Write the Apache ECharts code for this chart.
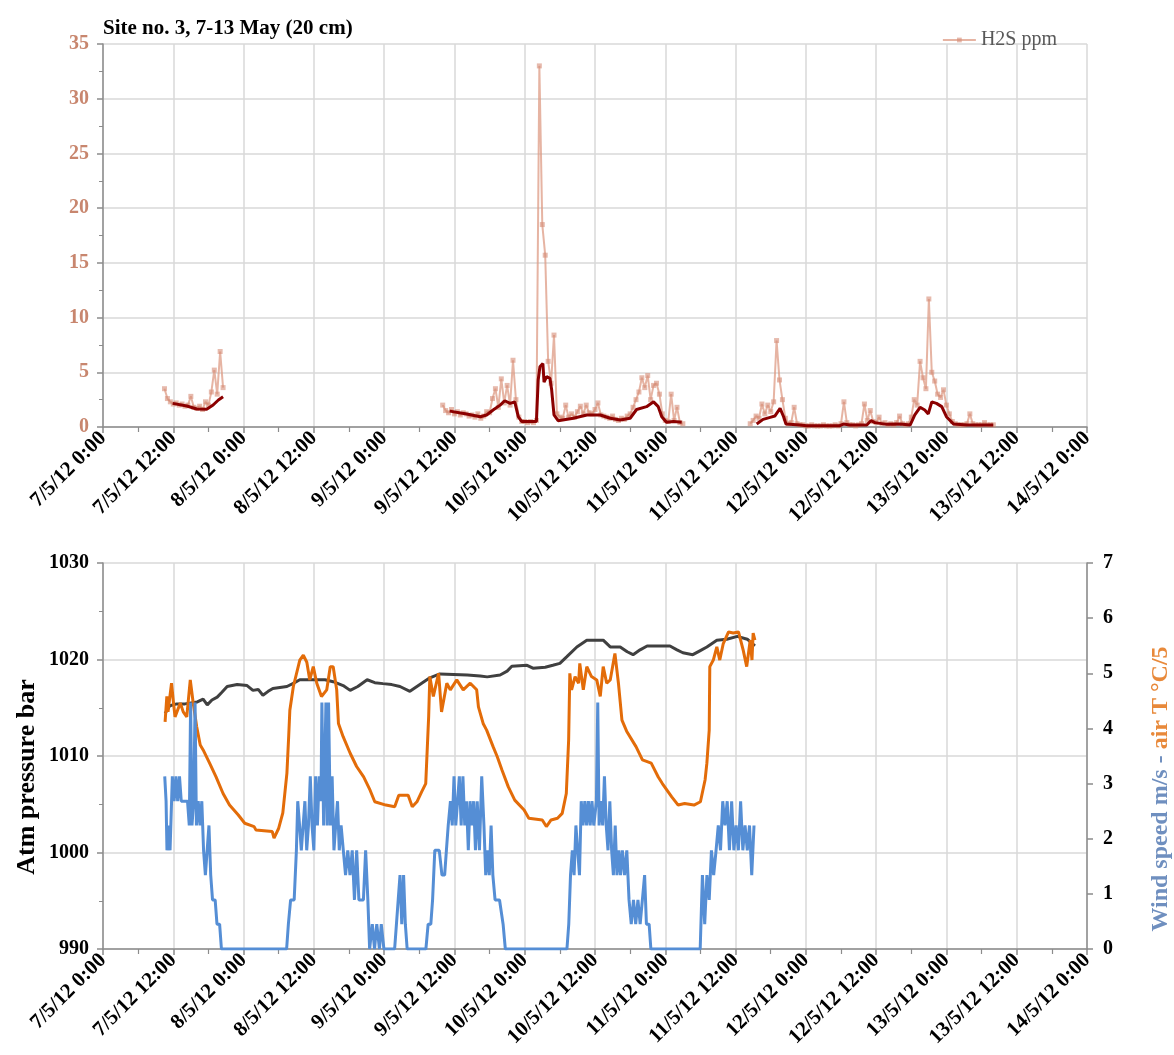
<!DOCTYPE html>
<html>
<head>
<meta charset="utf-8">
<script src="https://cdn.jsdelivr.net/npm/echarts@6/dist/echarts.min.js"></script>
<style>html,body{margin:0;padding:0;background:#fff}#c{width:1174px;height:1055px}</style>
</head>
<body>
<div id="c"></div>
<script>
// ---- tick labels (x axis every 12 h from 7 May 0:00) ----
const xTickLabels = ['7/5/12 0:00','7/5/12 12:00','8/5/12 0:00','8/5/12 12:00','9/5/12 0:00','9/5/12 12:00',
  '10/5/12 0:00','10/5/12 12:00','11/5/12 0:00','11/5/12 12:00','12/5/12 0:00','12/5/12 12:00',
  '13/5/12 0:00','13/5/12 12:00','14/5/12 0:00'];

// ---- H2S raw readings (ppm), half-hour samples; start hour of each block ----
const h2sRawStart = [10.5, 58.0, 110.5];
const h2sRawStep = 0.5;
const h2sRaw1 = [3.5,2.6,2.3,2.1,2.2,2.0,2.1,1.9,2.0,2.8,1.8,1.7,1.9,1.6,2.3,2.0,3.2,5.2,3.0,6.9,3.6];
const h2sRaw2 = [2.0,1.5,1.3,1.6,1.2,1.4,1.1,1.3,1.2,1.0,1.1,0.9,1.2,0.8,1.0,1.4,1.3,2.6,3.5,1.8,
  4.4,2.2,3.8,2.0,6.1,2.5,0.9,0.5,0.5,0.4,0.5,0.4,0.6,33.0,18.5,15.7,6.0,4.0,8.4,1.2,
  0.9,0.8,2.0,0.9,1.2,0.9,1.4,1.9,1.2,2.0,1.3,1.2,1.6,2.2,1.1,1.0,0.9,0.8,1.0,0.7,
  0.6,0.8,0.7,1.0,1.2,1.8,2.5,3.2,4.5,3.6,4.7,2.5,3.8,4.0,3.0,1.2,0.6,0.5,3.0,0.6,
  1.8,0.4,0.3];
const h2sRaw3 = [0.3,0.6,1.0,0.8,2.1,1.2,2.0,1.4,2.3,7.9,4.3,2.5,0.8,0.3,0.4,1.8,0.3,0.2,0.2,0.1,
  0.1,0.2,0.1,0.1,0.1,0.2,0.1,0.1,0.1,0.2,0.1,0.3,2.3,0.4,0.2,0.2,0.1,0.2,0.3,2.1,
  0.6,1.5,0.5,0.4,0.9,0.3,0.4,0.2,0.3,0.2,0.4,1.0,0.3,0.2,0.3,0.9,2.5,2.0,6.0,4.5,
  3.5,11.7,5.0,4.2,3.0,2.7,3.4,2.0,1.2,0.5,0.3,0.2,0.2,0.2,0.3,1.2,0.3,0.2,0.2,0.2,
  0.4,0.2,0.2,0.2];

// ---- H2S running mean [hour, ppm] ----
const h2sAvg1 = [[11.9,2.16],[14.3,1.92],[16.0,1.65],[17.7,1.62],[18.8,2.01],[19.7,2.47],[20.5,2.77]];
const h2sAvg2 = [[59.2,1.45],[62.1,1.19],[64.4,0.94],[65.5,1.1],[66.6,1.55],[67.8,2.0],[68.6,2.4],[69.5,2.16],
  [70.3,2.3],[70.9,0.94],[71.5,0.5],[74.0,0.5],[74.3,4.3],[74.6,5.5],[75.1,5.8],[75.3,4.1],[75.75,4.6],
  [76.3,4.45],[76.6,3.4],[77.0,1.1],[77.7,0.58],[80.3,0.8],[82.6,1.1],[84.9,1.1],[86.6,0.8],[88.3,0.64],
  [90.0,0.8],[91.1,1.6],[92.8,1.86],[94.0,2.3],[94.8,1.86],[95.4,0.94],[96.2,0.43],[97.4,0.5],[98.8,0.43]];
const h2sAvg3 = [[111.6,0.27],[112.7,0.7],[113.9,0.88],[114.7,1.0],[115.6,1.7],[116.2,0.94],[116.6,0.27],
  [119.0,0.18],[120.1,0.12],[125.8,0.12],[126.4,0.27],[127.5,0.18],[130.4,0.18],[131.1,0.58],[131.8,0.4],
  [133.8,0.24],[136.1,0.27],[137.8,0.18],[138.6,1.1],[139.5,1.8],[140.3,1.55],[140.9,1.2],[141.5,2.3],
  [142.3,2.16],[143.2,1.86],[144.0,0.94],[145.2,0.27],[147.5,0.18],[152.0,0.18]];

// ---- Atmospheric pressure [hour, mbar] ----
const pressure = [[10.6,1014.4],[11.4,1015.2],[12.6,1015.4],[14.0,1015.4],[16.1,1015.6],[17.1,1015.9],
  [17.8,1015.3],[18.6,1015.8],[19.5,1016.1],[20.3,1016.6],[21.2,1017.2],[22.9,1017.4],[24.6,1017.3],
  [25.6,1016.8],[26.5,1016.9],[27.3,1016.3],[28.2,1016.7],[29.0,1017.0],[31.4,1017.2],[32.4,1017.5],
  [33.6,1017.9],[35.9,1017.9],[37.9,1017.9],[39.3,1017.7],[41.0,1017.3],[42.2,1016.8],[43.5,1017.2],
  [45.1,1017.9],[46.4,1017.6],[47.8,1017.5],[49.3,1017.4],[50.7,1017.2],[52.4,1016.7],[54.1,1017.4],
  [55.8,1018.1],[57.5,1018.5],[62.2,1018.4],[64.4,1018.3],[65.6,1018.2],[67.8,1018.4],[69.0,1018.8],
  [69.8,1019.3],[72.4,1019.4],[73.4,1019.1],[75.5,1019.2],[76.8,1019.4],[78.0,1019.6],[79.2,1020.3],
  [80.9,1021.3],[82.6,1022.0],[85.4,1022.0],[86.6,1021.3],[88.3,1021.3],[89.5,1020.8],[90.5,1020.5],
  [91.7,1021.0],[92.9,1021.4],[96.8,1021.4],[98.0,1021.0],[99.0,1020.7],[100.7,1020.5],[101.9,1020.9],
  [103.1,1021.3],[104.8,1022.0],[106.5,1022.1],[108.3,1022.4],[110.0,1022.1],[111.3,1021.4]];

// ---- Air temperature / 5 [hour, °C/5] ----
const airT5 = [[10.6,4.12],[10.9,4.58],[11.1,4.3],[11.7,4.82],[12.0,4.5],[12.3,4.21],[13.2,4.46],[13.7,4.3],
  [14.3,4.21],[14.9,4.88],[15.4,4.46],[16.0,4.03],[16.6,3.7],[17.1,3.61],[18.2,3.37],[19.3,3.12],[20.5,2.82],
  [21.6,2.61],[23.1,2.43],[24.2,2.28],[25.8,2.22],[26.1,2.16],[28.9,2.13],[29.2,2.01],[30.0,2.19],[30.7,2.47],
  [31.4,3.19],[31.7,3.85],[31.9,4.33],[32.5,4.76],[33.6,5.24],[34.2,5.33],[34.8,5.2],[35.3,4.88],[35.9,5.12],
  [36.5,4.82],[37.3,4.58],[38.2,4.7],[38.8,5.12],[39.3,5.12],[39.9,4.7],[40.2,4.09],[41.0,3.85],[42.2,3.55],
  [43.3,3.31],[44.5,3.12],[45.6,2.88],[46.4,2.67],[48.3,2.61],[49.8,2.58],[50.5,2.79],[52.1,2.79],[52.8,2.58],
  [53.6,2.67],[54.4,2.85],[55.1,3.0],[55.5,3.97],[55.6,4.21],[55.8,4.94],[56.4,4.58],[57.3,5.0],[57.8,4.3],
  [58.7,4.82],[59.3,4.7],[60.4,4.88],[61.5,4.7],[62.7,4.82],[63.8,4.7],[64.1,4.39],[64.9,4.09],[65.5,3.97],
  [66.6,3.67],[67.3,3.49],[68.1,3.25],[69.2,2.94],[70.3,2.7],[71.9,2.52],[72.7,2.37],[75.0,2.34],[75.7,2.22],
  [76.5,2.34],[77.6,2.37],[78.4,2.46],[79.1,2.82],[79.5,3.79],[79.7,5.0],[80.0,4.7],[80.6,4.94],[81.2,4.82],
  [81.4,5.18],[82.0,4.7],[82.6,5.12],[83.4,4.94],[84.3,4.88],[84.9,4.58],[85.4,5.12],[86.0,4.82],[86.6,4.88],
  [87.4,5.36],[88.0,4.82],[88.6,4.15],[89.4,3.95],[91.0,3.67],[92.1,3.43],[93.6,3.37],[94.8,3.12],[95.5,3.0],
  [97.1,2.76],[98.2,2.61],[99.3,2.64],[100.9,2.61],[102.0,2.67],[102.8,3.07],[103.1,3.37],[103.5,3.97],
  [103.6,5.12],[104.2,5.24],[104.8,5.48],[105.3,5.24],[105.9,5.54],[106.8,5.75],[107.6,5.73],[108.5,5.75],
  [109.3,5.42],[109.9,5.12],[110.5,5.6],[110.8,5.24],[111.0,5.73],[111.3,5.6]];

// ---- Wind speed [hour, m/s] ----
const wind = [[10.54,3.13],[10.77,2.68],[10.92,1.79],[11.15,2.24],[11.45,1.79],[11.84,3.13],[12.14,2.68],
  [12.45,3.13],[12.75,2.68],[13.06,3.13],[13.36,2.68],[13.82,2.68],[14.43,2.68],[14.73,2.24],[14.96,4.47],
  [15.19,2.24],[15.49,2.68],[15.72,4.47],[15.95,2.24],[16.26,2.68],[16.56,2.24],[16.87,2.68],[17.17,1.79],
  [17.48,1.34],[17.78,1.34],[18.09,2.24],[18.39,1.34],[18.70,0.89],[19.15,0.89],[19.46,0.45],[19.91,0.45],
  [20.22,0],[31.35,0],[31.65,0.45],[32.03,0.89],[32.64,0.89],[33.02,1.79],[33.25,2.68],[33.56,2.24],
  [33.86,1.79],[34.17,2.24],[34.47,2.68],[34.78,1.79],[35.08,2.24],[35.39,3.13],[35.69,2.24],[36.0,1.79],
  [36.3,3.13],[36.61,2.24],[36.91,3.13],[37.22,2.68],[37.37,4.47],[37.67,2.24],[38.06,4.47],[38.28,2.24],
  [38.51,4.47],[38.82,2.24],[39.12,3.13],[39.43,1.79],[39.73,2.24],[40.04,2.68],[40.34,1.79],[40.65,2.24],
  [41.03,1.79],[41.41,1.34],[41.79,1.79],[42.17,1.34],[42.55,1.79],[42.93,0.89],[43.31,1.79],[43.69,0.89],
  [44.46,0.89],[44.84,1.79],[45.22,0.89],[45.52,0],[45.98,0.45],[46.36,0],[46.74,0.45],[47.2,0],[47.51,0.45],
  [47.96,0],[49.79,0],[50.1,0.45],[50.4,0.89],[50.71,1.34],[51.01,0.45],[51.32,1.34],[51.62,0.45],[51.93,0],
  [55.13,0],[55.51,0.45],[55.97,0.45],[56.27,0.89],[56.65,1.79],[57.41,1.79],[57.87,1.34],[58.33,1.34],
  [58.63,1.79],[58.94,2.24],[59.32,2.68],[59.63,2.24],[59.93,3.13],[60.23,2.24],[60.54,2.68],[60.84,3.13],
  [61.15,2.24],[61.45,3.13],[61.76,2.24],[62.06,2.68],[62.37,1.79],[62.67,2.68],[62.98,2.24],[63.28,2.68],
  [63.59,1.79],[63.89,2.68],[64.27,1.79],[64.66,3.13],[65.04,2.24],[65.34,1.34],[65.65,1.79],[65.95,1.34],
  [66.26,2.24],[66.56,1.34],[66.94,0.89],[67.7,0.89],[68.31,0.45],[68.69,0],[79.21,0],[79.52,0.45],
  [79.82,1.34],[80.13,1.79],[80.43,1.34],[80.74,2.24],[81.04,1.79],[81.35,1.34],[81.65,2.68],[81.96,2.24],
  [82.26,2.68],[82.57,2.24],[82.87,2.68],[83.18,2.24],[83.48,2.68],[83.79,2.24],[84.24,2.68],[84.47,4.47],
  [84.7,2.24],[85.0,2.68],[85.31,2.24],[85.61,3.13],[85.92,2.24],[86.22,1.79],[86.53,2.68],[86.84,1.79],
  [87.14,1.34],[87.45,2.24],[87.75,1.34],[88.06,1.79],[88.36,1.34],[88.67,1.79],[89.05,1.34],[89.43,1.79],
  [89.81,0.89],[90.19,0.45],[90.57,0.89],[90.95,0.45],[91.33,0.89],[91.71,0.45],[92.09,0.89],[92.47,1.34],
  [92.78,0.45],[93.24,0.45],[93.54,0],[101.96,0],[102.34,1.34],[102.73,0.45],[103.11,1.34],[103.5,0.89],
  [103.88,1.79],[104.26,1.34],[104.67,1.79],[105.05,2.24],[105.43,1.79],[105.81,2.68],[106.19,2.24],
  [106.57,2.68],[106.95,1.79],[107.33,2.68],[107.71,1.79],[108.09,2.24],[108.48,1.79],[108.86,2.68],
  [109.24,1.79],[109.62,2.24],[110.0,1.79],[110.38,2.24],[110.76,1.34],[111.15,2.24]];

// ---------------- chart ----------------
const serif = '"Liberation Serif", "Times New Roman", serif';
const gridColor = '#D9D9D9';
const axisGray = '#8C8C8C';

function rawPairs(start, vals) { return vals.map((v, i) => [start + i * h2sRawStep, v]); }

function xAxisFor(gi) {
  return {
    type: 'value', gridIndex: gi, min: 0, max: 168, interval: 12,
    axisLine: { show: true, onZero: false, lineStyle: { color: axisGray, width: 1.5 } },
    axisTick: { show: true, length: 6, lineStyle: { color: axisGray, width: 1.5 } },
    minorTick: { show: true, splitNumber: 2, length: 5, lineStyle: { color: axisGray, width: 1.2 } },
    splitLine: { show: true, lineStyle: { color: gridColor, width: 1.5 } },
    axisLabel: { rotate: 45, margin: 8, color: '#000', fontFamily: serif, fontWeight: 'bold', fontSize: 21,
      formatter: v => xTickLabels[Math.round(v / 12)] }
  };
}

const rawStyle = {
  type: 'line', xAxisIndex: 0, yAxisIndex: 0, name: 'H2S ppm',
  symbol: 'rect', symbolSize: 5, showSymbol: true,
  lineStyle: { color: 'rgba(222,155,132,0.75)', width: 2 },
  itemStyle: { color: 'rgba(214,140,118,0.6)' },
  z: 2
};
const avgStyle = { type: 'line', xAxisIndex: 0, yAxisIndex: 0, name: 'H2S avg', symbol: 'none',
  lineStyle: { color: '#8B0000', width: 3 }, itemStyle: { color: '#8B0000' }, z: 3 };

const option = {
  animation: false,
  backgroundColor: '#fff',
  title: { text: 'Site no. 3, 7-13 May (20 cm)', left: 98, top: 13,
    textStyle: { fontFamily: serif, fontWeight: 'bold', fontSize: 21, color: '#000' } },
  legend: { data: ['H2S ppm'], right: 112, top: 25, itemWidth: 33, itemHeight: 6, itemGap: 4,
    textStyle: { fontFamily: serif, fontSize: 20, color: '#595959' } },
  grid: [
    { left: 103, right: 87, top: 44, height: 383 },
    { left: 103, right: 87, top: 563, height: 386 }
  ],
  xAxis: [xAxisFor(0), xAxisFor(1)],
  yAxis: [
    { type: 'value', gridIndex: 0, min: 0, max: 35, interval: 5,
      axisLine: { show: true, lineStyle: { color: axisGray, width: 1.5 } },
      axisTick: { show: true, length: 6, lineStyle: { color: axisGray, width: 1.5 } },
      minorTick: { show: true, splitNumber: 2, length: 4, lineStyle: { color: axisGray } },
      splitLine: { show: true, lineStyle: { color: gridColor, width: 1.5 } },
      axisLabel: { margin: 14, color: '#C8866E', fontFamily: serif, fontWeight: 'bold', fontSize: 20 } },
    { type: 'value', gridIndex: 1, min: 990, max: 1030, interval: 10,
      axisLine: { show: true, lineStyle: { color: axisGray, width: 1.5 } },
      axisTick: { show: true, length: 6, lineStyle: { color: axisGray, width: 1.5 } },
      minorTick: { show: true, splitNumber: 2, length: 4, lineStyle: { color: axisGray } },
      splitLine: { show: true, lineStyle: { color: gridColor, width: 1.5 } },
      axisLabel: { margin: 14, color: '#000', fontFamily: serif, fontWeight: 'bold', fontSize: 20,
        formatter: v => String(v) } },
    { type: 'value', gridIndex: 1, position: 'right', min: 0, max: 7, interval: 1,
      axisLine: { show: true, lineStyle: { color: axisGray, width: 1.5 } },
      axisTick: { show: true, length: 6, lineStyle: { color: axisGray, width: 1.5 } },
      splitLine: { show: false },
      axisLabel: { margin: 16, color: '#000', fontFamily: serif, fontWeight: 'bold', fontSize: 20 } }
  ],
  graphic: [
    { type: 'text', x: 27, y: 777, rotation: Math.PI / 2,
      style: { text: 'Atm pressure bar', fill: '#000', fontFamily: serif, fontWeight: 'bold', fontSize: 26,
        align: 'center', verticalAlign: 'middle' } },
    { type: 'text', x: 1161, y: 789, rotation: Math.PI / 2,
      style: { text: '{a|Wind speed m/s - }{b|air T °C/5}', align: 'center', verticalAlign: 'middle',
        fontFamily: serif, fontWeight: 'bold', fontSize: 24,
        rich: { a: { fill: '#6F8FBF', fontFamily: serif, fontWeight: 'bold', fontSize: 24 },
                b: { fill: '#E8893A', fontFamily: serif, fontWeight: 'bold', fontSize: 24 } } } }
  ],
  series: [
    Object.assign({}, rawStyle, { data: rawPairs(h2sRawStart[0], h2sRaw1) }),
    Object.assign({}, rawStyle, { data: rawPairs(h2sRawStart[1], h2sRaw2) }),
    Object.assign({}, rawStyle, { data: rawPairs(h2sRawStart[2], h2sRaw3) }),
    Object.assign({}, avgStyle, { data: h2sAvg1 }),
    Object.assign({}, avgStyle, { data: h2sAvg2 }),
    Object.assign({}, avgStyle, { data: h2sAvg3 }),
    { type: 'line', name: 'Atm pressure', xAxisIndex: 1, yAxisIndex: 1, data: pressure, symbol: 'none',
      lineStyle: { color: '#404040', width: 3 }, itemStyle: { color: '#404040' }, z: 2 },
    { type: 'line', name: 'Air T/5', xAxisIndex: 1, yAxisIndex: 2, data: airT5, symbol: 'none',
      lineStyle: { color: '#E36C09', width: 3 }, itemStyle: { color: '#E36C09' }, z: 3 },
    { type: 'line', name: 'Wind speed', xAxisIndex: 1, yAxisIndex: 2, data: wind, symbol: 'none',
      lineStyle: { color: '#558ED5', width: 3 }, itemStyle: { color: '#558ED5' }, z: 4 }
  ]
};

const chart = echarts.init(document.getElementById('c'), null, { renderer: 'canvas' });
chart.setOption(option);
</script>
</body>
</html>
